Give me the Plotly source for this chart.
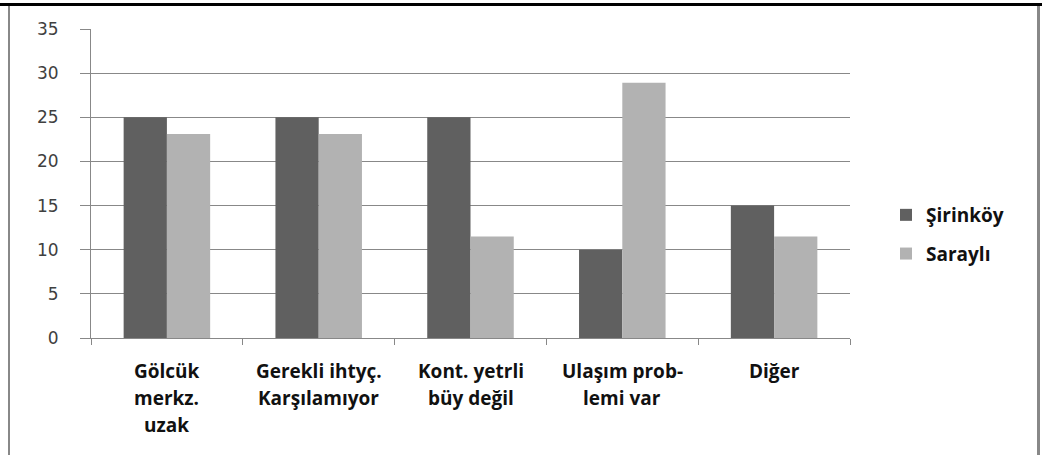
import plotly.graph_objects as go

# Category labels (each split into the lines drawn under the axis)
categories = ["Gölcük merkz. uzak", "Gerekli ihtyç. Karşılamıyor", "Kont. yetrli büy değil",
              "Ulaşım prob-lemi var", "Diğer"]
category_lines = [["Gölcük", "merkz.", "uzak"],
                  ["Gerekli ihtyç.", "Karşılamıyor"],
                  ["Kont. yetrli", "büy değil"],
                  ["Ulaşım prob-", "lemi var"],
                  ["Diğer"]]

sirinkoy = [25, 25, 25, 10, 15]
sarayli = [23.1, 23.1, 11.5, 28.9, 11.5]

y_ticks = [0, 5, 10, 15, 20, 25, 30, 35]

W, H = 1042, 455
L, R, T, B = 91, 850, 29, 338  # plot area in pixels


def px_x(px):
    return (px - L) / (R - L)


def px_y(py):
    return (B - py) / (B - T)


fig = go.Figure()
fig.add_trace(go.Bar(name="Şirinköy", x=categories, y=sirinkoy,
                     marker=dict(color="#606060", line=dict(width=0)), legendgroup="a"))
fig.add_trace(go.Bar(name="Saraylı", x=categories, y=sarayli,
                     marker=dict(color="#b2b2b2", line=dict(width=0)), legendgroup="b"))

label_font = dict(family="Open Sans", size=19, color="#111111", weight="bold")
line_centers = [371, 398, 425]
annotations = []
for cat, lines in zip(categories, category_lines):
    for i, text in enumerate(lines):
        annotations.append(dict(x=cat, xref="x", y=px_y(line_centers[i]), yref="paper",
                                text=text, showarrow=False, xanchor="center", yanchor="middle",
                                font=label_font))

grey = "#888888"
shapes = [
    # frame: heavy black rule across the top, grey rules down the sides
    dict(type="line", xref="paper", yref="paper", x0=px_x(0), x1=px_x(W), y0=px_y(4.5), y1=px_y(4.5),
         line=dict(color="#000000", width=3)),
    dict(type="line", xref="paper", yref="paper", x0=px_x(9), x1=px_x(9), y0=px_y(6), y1=px_y(H),
         line=dict(color=grey, width=2)),
    dict(type="line", xref="paper", yref="paper", x0=px_x(1038.5), x1=px_x(1038.5), y0=px_y(6), y1=px_y(H),
         line=dict(color=grey, width=3)),
]

fig.update_layout(
    width=W, height=H,
    margin=dict(l=L, r=W - R, t=T, b=H - B, pad=0),
    paper_bgcolor="white", plot_bgcolor="white",
    barmode="group", bargap=0.43, bargroupgap=0,
    font=dict(family="Open Sans", color="#333333"),
    xaxis=dict(showticklabels=False, ticks="outside", tickson="boundaries", ticklen=6,
               tickcolor=grey, showline=True, linecolor=grey, linewidth=1,
               showgrid=False, zeroline=False),
    yaxis=dict(range=[0, 35], tickvals=y_ticks, ticks="outside", ticklen=10, tickcolor=grey,
               showline=True, linecolor=grey, linewidth=1,
               showgrid=True, gridcolor=grey, gridwidth=1, zeroline=False,
               tickfont=dict(family="DejaVu Sans", size=17, color="#404040"), ticklabelstandoff=18),
    legend=dict(x=px_x(886), y=px_y(196), xanchor="left", yanchor="top",
                font=dict(family="Open Sans", size=19, color="#111111", weight="bold"),
                itemwidth=30, tracegroupgap=11, traceorder="grouped", bgcolor="rgba(0,0,0,0)"),
    annotations=annotations,
    shapes=shapes,
    showlegend=True,
)

fig.write_html("out.html")
